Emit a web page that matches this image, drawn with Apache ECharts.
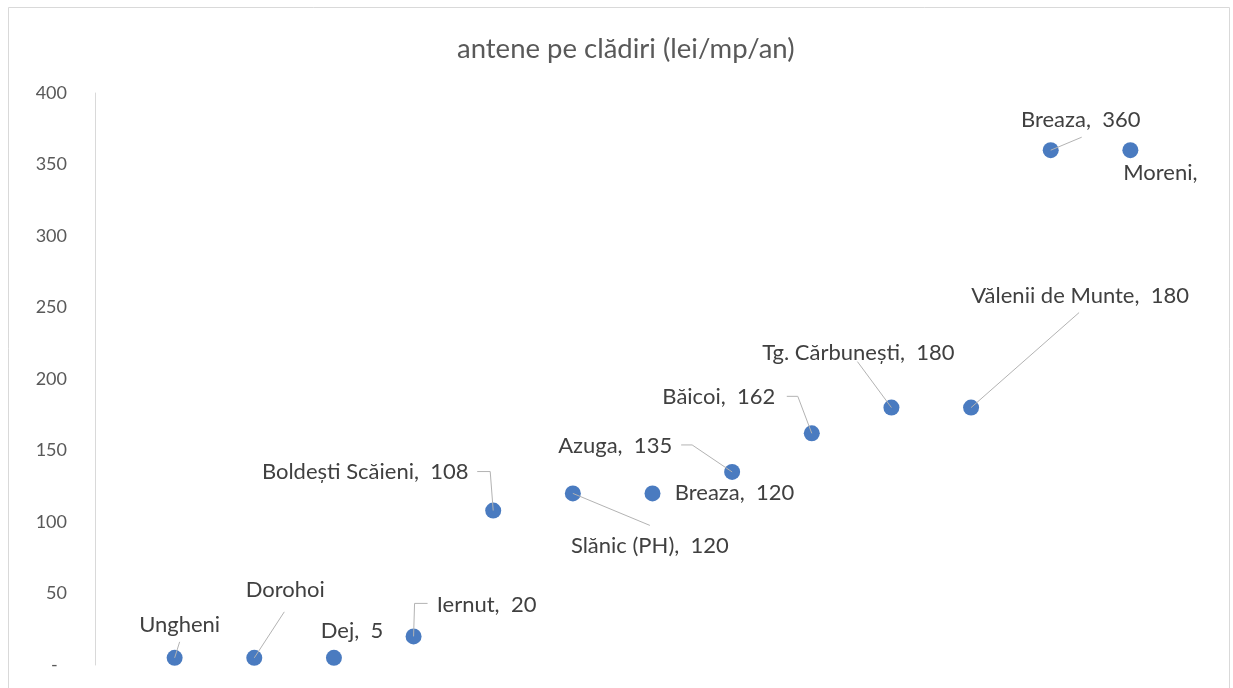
<!DOCTYPE html>
<html>
<head>
<meta charset="utf-8">
<script src="https://cdn.jsdelivr.net/npm/echarts@6/dist/echarts.min.js"></script>
<style>
  html, body { margin: 0; padding: 0; background: #fff; }
  #chart { width: 1233px; height: 688px; }
</style>
</head>
<body>
<div id="chart"></div>
<script>
// Localities in plotting order (x = 1..n) and their rent values
const towns = ['Ungheni', 'Dorohoi', 'Dej', 'Iernut', 'Boldești Scăieni', 'Slănic (PH)',
  'Breaza', 'Azuga', 'Băicoi', 'Tg. Cărbunești', 'Vălenii de Munte', 'Breaza', 'Moreni'];
const values = [5, 5, 5, 20, 108, 120, 120, 135, 162, 180, 180, 360, 360];
// What each data label shows: 'n' name only, 'nv' name and value, 'nc' name with trailing comma
const labelKinds = ['n', 'n', 'nv', 'nv', 'nv', 'nv', 'nv', 'nv', 'nv', 'nv', 'nv', 'nv', 'nc'];
const yTicks = [0, 50, 100, 150, 200, 250, 300, 350, 400];

// Label displacement from its point (px)
const labelOffsets = [
  [5, -33], [31, -68], [18, -27], [73, -31], [-128, -39], [77, 53], [82, 0],
  [-117, -26], [-93, -36], [-33, -55], [109, -112], [30, -30], [30, 23]
];
// Leader line routes, relative to the point (px); empty = no leader
const leaderRoutes = [
  [[5, -16], [0, 0]],
  [[30, -46], [0, 0]],
  [],
  [[14, -33], [1, -33], [0, 0]],
  [[-16, -39], [-3, -39], [0, 0]],
  [[77, 32], [0, 0]],
  [],
  [[-51, -27], [-40, -27], [0, 0]],
  [[-25, -37], [-14, -37], [0, 0]],
  [[-34, -46], [0, 0]],
  [[108, -95], [0, 0]],
  [[31, -13], [0, 0]],
  []
];

function labelText(i) {
  const k = labelKinds[i];
  if (k === 'n') return towns[i];
  if (k === 'nc') return towns[i] + ',';
  return towns[i] + ',  ' + values[i];
}

const points = values.map((v, i) => [i + 1, v]);
const data = points.map((pt, i) => ({ value: pt, label: { formatter: labelText(i) } }));

const option = {
  backgroundColor: '#ffffff',
  animation: false,
  title: {
    text: 'antene pe clădiri (lei/mp/an)',
    left: 452,
    top: 30,
    textStyle: { fontFamily: 'Lato', fontSize: 27.5, fontWeight: 'normal', color: '#595959' }
  },
  graphic: [{
    type: 'rect',
    shape: { x: 8.5, y: 7.5, width: 1221, height: 700 },
    style: { fill: 'none', stroke: '#d9d9d9', lineWidth: 1 },
    silent: true
  }],
  grid: { left: 95, right: 23, top: 93, bottom: 23 },
  xAxis: { type: 'value', min: 0, max: 14, show: false },
  yAxis: {
    type: 'value',
    min: yTicks[0],
    max: yTicks[yTicks.length - 1],
    interval: 50,
    axisLine: { show: true, lineStyle: { color: '#d9d9d9', width: 1 } },
    axisTick: { show: false },
    splitLine: { show: false },
    axisLabel: {
      margin: 28,
      fontFamily: 'Lato',
      fontSize: 18,
      color: '#595959',
      formatter: v => (v === 0 ? '-  ' : String(v))
    }
  },
  series: [{
    type: 'scatter',
    data: data,
    symbol: 'circle',
    symbolSize: 16,
    z: 2,
    itemStyle: { color: '#4a7bc0', opacity: 1 },
    label: {
      show: true,
      position: 'inside',
      fontFamily: 'Lato',
      fontSize: 22,
      color: '#404040'
    },
    labelLayout: p => ({ dx: labelOffsets[p.dataIndex][0], dy: labelOffsets[p.dataIndex][1] })
  }, {
    // leader lines joining the data labels to their points
    type: 'custom',
    z: 3,
    silent: true,
    data: points,
    encode: { x: 0, y: 1 },
    renderItem: (params, api) => {
      const route = leaderRoutes[params.dataIndex];
      if (!route.length) return null;
      const c = api.coord([api.value(0), api.value(1)]);
      return {
        type: 'polyline',
        shape: { points: route.map(o => [c[0] + o[0], c[1] + o[1]]) },
        style: { fill: null, stroke: '#b3b3b3', lineWidth: 1 }
      };
    }
  }]
};

const chart = echarts.init(document.getElementById('chart'));
chart.setOption(option);
</script>
</body>
</html>
